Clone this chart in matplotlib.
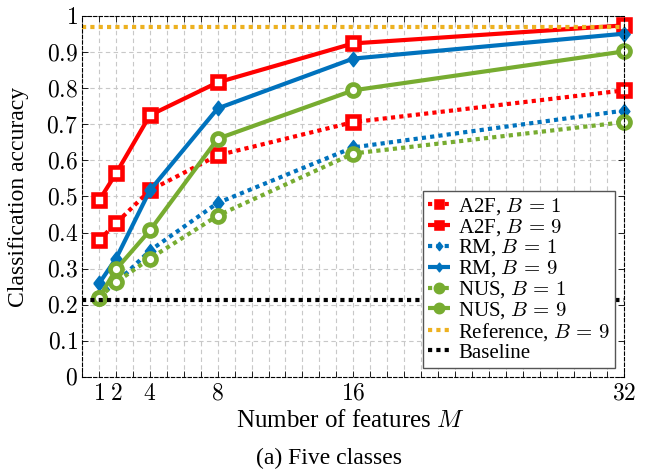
import matplotlib
matplotlib.use("Agg")
import matplotlib.pyplot as plt
from matplotlib.ticker import MultipleLocator, FixedLocator

plt.rcParams['font.family'] = ['Liberation Serif', 'DejaVu Serif']
plt.rcParams['mathtext.fontset'] = 'cm'

M = [1, 2, 4, 8, 16, 32]
a2f_b1 = [0.379, 0.426, 0.517, 0.614, 0.706, 0.794]
a2f_b9 = [0.489, 0.564, 0.725, 0.816, 0.924, 0.974]
rm_b1 = [0.225, 0.26, 0.35, 0.482, 0.636, 0.738]
rm_b9 = [0.259, 0.328, 0.517, 0.744, 0.882, 0.951]
nus_b1 = [0.22, 0.262, 0.328, 0.447, 0.619, 0.706]
nus_b9 = [0.22, 0.298, 0.406, 0.66, 0.794, 0.902]
reference = 0.97
baseline = 0.214
xlim = [0, 32]

red = '#FF0000'
blue = '#0072BD'
green = '#77AC30'
yellow = '#EDB120'

fig = plt.figure(figsize=(6.47, 4.70), dpi=100)
ax = fig.add_axes([0.127, 0.198, 0.838, 0.768])

lw = 3.0
dot = (0, (1, 1))
diamond = [(-0.78, 0), (0, 1), (0.78, 0), (0, -1), (-0.78, 0)]
common = dict(lw=lw, clip_on=False, dash_capstyle='butt', solid_capstyle='butt')
ax.plot(M, a2f_b1, ls=dot, color=red, marker='s', ms=8.3, mfc='white', mew=3.3, label=r'A2F, $B\,=\,1$', **common)
ax.plot(M, a2f_b9, ls='-', color=red, marker='s', ms=8.3, mfc='white', mew=3.3, label=r'A2F, $B\,=\,9$', **common)
ax.plot(M, rm_b1, ls=dot, color=blue, marker=diamond, ms=10, mfc=blue, mew=1, label=r'RM, $B\,=\,1$', **common)
ax.plot(M, rm_b9, ls='-', color=blue, marker=diamond, ms=10.5, mfc=blue, mew=1, label=r'RM, $B\,=\,9$', **common)
ax.plot(M, nus_b1, ls=dot, color=green, marker='o', ms=8.6, mfc='white', mew=3.4, label=r'NUS, $B\,=\,1$', **common)
ax.plot(M, nus_b9, ls='-', color=green, marker='o', ms=8.6, mfc='white', mew=3.4, label=r'NUS, $B\,=\,9$', **common)
ax.plot(xlim, [reference, reference], ls=dot, color=yellow, lw=lw, dash_capstyle='butt', label=r'Reference, $B\,=\,9$')
ax.plot(xlim, [baseline, baseline], ls=dot, color='black', lw=lw, dash_capstyle='butt', label='Baseline')

ax.set_xlim(xlim)
ax.set_ylim(0, 1)
ax.xaxis.set_major_locator(FixedLocator(M))
ax.xaxis.set_minor_locator(MultipleLocator(1))
ax.set_xticklabels([f'${m}$' for m in M])
yt = [round(i * 0.1, 1) for i in range(11)]
ax.set_yticks(yt)
ax.set_yticklabels(['$0$'] + [f'${v:g}$' for v in yt[1:-1]] + ['$1$'])
ax.tick_params(axis='both', which='both', direction='in', labelsize=17, top=True, right=True, length=4, width=0.6)
ax.tick_params(axis='y', which='major', pad=3)
ax.tick_params(axis='x', which='major', pad=5)
ax.grid(True, which='major', axis='y', ls=(0, (4, 3)), color='#c8c8c8', lw=0.8)
ax.grid(True, which='both', axis='x', ls=(0, (4, 3)), color='#c8c8c8', lw=0.8)
ax.set_axisbelow(True)
for s in ax.spines.values():
    s.set_linestyle((0, (3, 2)))
    s.set_linewidth(0.8)
    s.set_color('black')

ax.set_xlabel(r'Number of features $M$', fontsize=18)
ax.xaxis.set_label_coords(0.495, -0.092)
ax.set_ylabel('Classification accuracy', fontsize=17)
ax.yaxis.set_label_coords(-0.098, 0.5)

leg = ax.legend(loc='lower right', fontsize=15, markerscale=0.6, handlelength=1.05, handletextpad=0.4,
                labelspacing=0.0, borderpad=0.25, borderaxespad=0.0, fancybox=False, framealpha=1,
                bbox_to_anchor=(0.983, 0.025))
leg.get_frame().set_edgecolor('#555555')
leg.get_frame().set_linewidth(1.0)
for h in leg.legend_handles:
    h.set_markerfacecolor(h.get_color())

fig.text(0.508, 0.012, '(a) Five classes', ha='center', va='baseline', fontsize=17)

fig.savefig('out.png', dpi=100)
